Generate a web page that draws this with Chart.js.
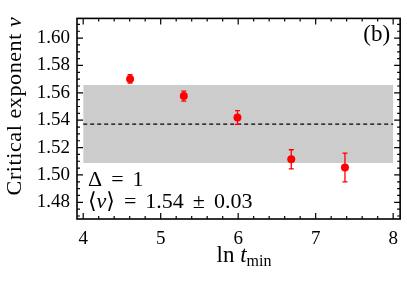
<!DOCTYPE html>
<html>
<head>
<meta charset="utf-8">
<script src="https://cdn.jsdelivr.net/npm/chart.js@4/dist/chart.umd.min.js"></script>
<style>
    html, body { margin: 0; padding: 0; background: #fff; }
</style>
</head>
<body>
<canvas id="nuChart" width="407" height="288"></canvas>
<script>
// valores
const lnTmin = [4.605, 5.298, 5.991, 6.685, 7.378];
const nuVals = [1.5702, 1.5576, 1.5420, 1.5114, 1.5054];
const nuErr = [0.0031, 0.0036, 0.0050, 0.0070, 0.0105];
const nuMean = 1.5372;
const nuSpread = 0.0285;
const bandX = [4, 8];
const xTicks = [4, 5, 6, 7, 8];
const yTicks = [1.48, 1.50, 1.52, 1.54, 1.56, 1.58, 1.60];
const xMinorStep = 0.2;
const yMinorStep = 0.005;

const serif = "'Liberation Serif', 'DejaVu Serif', serif";
const red = '#ff0000';

// barras de erro
const errorBars = {
    id: 'errorBars',
    afterDatasetsDraw(chart) {
        const { ctx, scales: { x, y } } = chart;
        ctx.save();
        ctx.strokeStyle = red;
        ctx.lineWidth = 1.3;
        lnTmin.forEach((v, i) => {
            const px = x.getPixelForValue(v);
            const top = y.getPixelForValue(nuVals[i] + nuErr[i]);
            const bot = y.getPixelForValue(nuVals[i] - nuErr[i]);
            ctx.beginPath();
            ctx.moveTo(px, top); ctx.lineTo(px, bot);
            ctx.moveTo(px - 2.5, top); ctx.lineTo(px + 2.5, top);
            ctx.moveTo(px - 2.5, bot); ctx.lineTo(px + 2.5, bot);
            ctx.stroke();
        });
        ctx.restore();
    }
};

// escreve pedaços de texto em sequência, com espaços fixos entre eles
function drawPieces(ctx, pieces, x, y, size, gap) {
    pieces.forEach(p => {
        ctx.font = (p.italic ? 'italic ' : '') + size + 'px ' + serif;
        ctx.fillText(p.t, x, y);
        x += ctx.measureText(p.t).width + (p.gap ? gap : 0);
    });
}

// moldura, ticks internos e textos
const frame = {
    id: 'frame',
    afterDraw(chart) {
        const { ctx, chartArea: a, scales: { x, y } } = chart;
        ctx.save();
        ctx.strokeStyle = '#000';
        ctx.lineWidth = 1.2;
        ctx.beginPath();
        const tickX = (v, len) => {
            const px = x.getPixelForValue(v);
            ctx.moveTo(px, a.bottom); ctx.lineTo(px, a.bottom - len);
            ctx.moveTo(px, a.top); ctx.lineTo(px, a.top + len);
        };
        const tickY = (v, len) => {
            const py = y.getPixelForValue(v);
            ctx.moveTo(a.left, py); ctx.lineTo(a.left + len, py);
            ctx.moveTo(a.right, py); ctx.lineTo(a.right - len, py);
        };
        for (let v = 3.8; v <= x.max + 1e-9; v += xMinorStep) {
            if (v >= x.min) tickX(v, 3);
        }
        for (let v = 1.465; v <= y.max + 1e-9; v += yMinorStep) {
            if (v >= y.min) tickY(v, 3);
        }
        xTicks.forEach(v => tickX(v, 6));
        yTicks.forEach(v => tickY(v, 6));
        ctx.stroke();

        ctx.lineWidth = 1.6;
        ctx.strokeRect(a.left, a.top, a.right - a.left, a.bottom - a.top);

        ctx.fillStyle = '#000';
        ctx.textBaseline = 'alphabetic';

        // (b)
        ctx.font = '23px ' + serif;
        ctx.textAlign = 'right';
        ctx.fillText('(b)', a.right - 10, a.top + 23);

        // anotações
        ctx.textAlign = 'left';
        drawPieces(ctx, [
            { t: '\u0394', gap: true }, { t: '=', gap: true }, { t: '1' }
        ], a.left + 11, a.top + 168, 22, 9);
        drawPieces(ctx, [
            { t: '\u27E8' }, { t: '\u03BD', italic: true }, { t: '\u27E9', gap: true },
            { t: '=', gap: true }, { t: '1.54', gap: true }, { t: '\u00B1', gap: true }, { t: '0.03' }
        ], a.left + 11, a.top + 190, 22, 9);

        // título eixo x: ln t_min
        const parts = [['ln ', '23px ', 0], ['t', 'italic 23px ', 0], ['min', '16px ', 4]];
        let w = 0;
        parts.forEach(p => { ctx.font = p[1] + serif; w += ctx.measureText(p[0]).width; });
        let sx = 244 - w / 2;
        parts.forEach(p => {
            ctx.font = p[1] + serif;
            ctx.fillText(p[0], sx, 262 + p[2]);
            sx += ctx.measureText(p[0]).width;
        });

        // título eixo y
        ctx.translate(21, 106);
        ctx.rotate(-Math.PI / 2);
        ctx.letterSpacing = '0.6px';
        const t1 = 'Critical exponent ';
        ctx.font = '22px ' + serif;
        const w1 = ctx.measureText(t1).width;
        ctx.font = 'italic 22px ' + serif;
        const w2 = ctx.measureText('\u03BD').width;
        ctx.font = '22px ' + serif;
        ctx.fillText(t1, -(w1 + w2) / 2, 0);
        ctx.font = 'italic 22px ' + serif;
        ctx.fillText('\u03BD', -(w1 + w2) / 2 + w1, 0);
        ctx.restore();
    }
};

const ctx = document.getElementById('nuChart').getContext('2d');
const chart = new Chart(ctx, {
    type: 'scatter',
    data: {
        datasets: [
            {
                type: 'line',
                order: 4,
                data: bandX.map(v => ({ x: v, y: nuMean - nuSpread })),
                borderWidth: 0,
                pointRadius: 0,
                fill: false
            },
            {
                type: 'line',
                order: 3,
                data: bandX.map(v => ({ x: v, y: nuMean + nuSpread })),
                borderWidth: 0,
                pointRadius: 0,
                backgroundColor: 'rgb(204,204,204)',
                fill: '-1'
            },
            {
                type: 'line',
                order: 2,
                data: bandX.map(v => ({ x: v, y: nuMean })),
                borderColor: '#000',
                borderWidth: 1.2,
                borderDash: [4, 3],
                pointRadius: 0,
                fill: false
            },
            {
                order: 1,
                data: lnTmin.map((v, i) => ({ x: v, y: nuVals[i] })),
                backgroundColor: red,
                borderColor: red,
                pointRadius: 4,
                borderWidth: 0
            }
        ]
    },
    options: {
        responsive: false,
        animation: false,
        devicePixelRatio: 1,
        layout: { padding: { top: 15, right: 3, left: 0, bottom: 0 } },
        plugins: { legend: { display: false }, tooltip: { enabled: false } },
        scales: {
            x: {
                type: 'linear',
                min: 3.92,
                max: 8.09,
                grid: { display: false, drawTicks: false },
                border: { display: false },
                afterBuildTicks: s => { s.ticks = xTicks.map(v => ({ value: v })); },
                afterFit: s => { s.height = 69; },
                ticks: {
                    color: '#000',
                    padding: 9,
                    maxRotation: 0,
                    font: { family: serif, size: 19 },
                    callback: v => String(v)
                }
            },
            y: {
                type: 'linear',
                min: 1.4678,
                max: 1.6144,
                grid: { display: false, drawTicks: false },
                border: { display: false },
                afterBuildTicks: s => { s.ticks = yTicks.map(v => ({ value: v })); },
                afterFit: s => { s.width = 77; },
                ticks: {
                    color: '#000',
                    padding: 7,
                    font: { family: serif, size: 19 },
                    callback: v => v.toFixed(2)
                }
            }
        }
    },
    plugins: [errorBars, frame]
});
</script>
</body>
</html>
